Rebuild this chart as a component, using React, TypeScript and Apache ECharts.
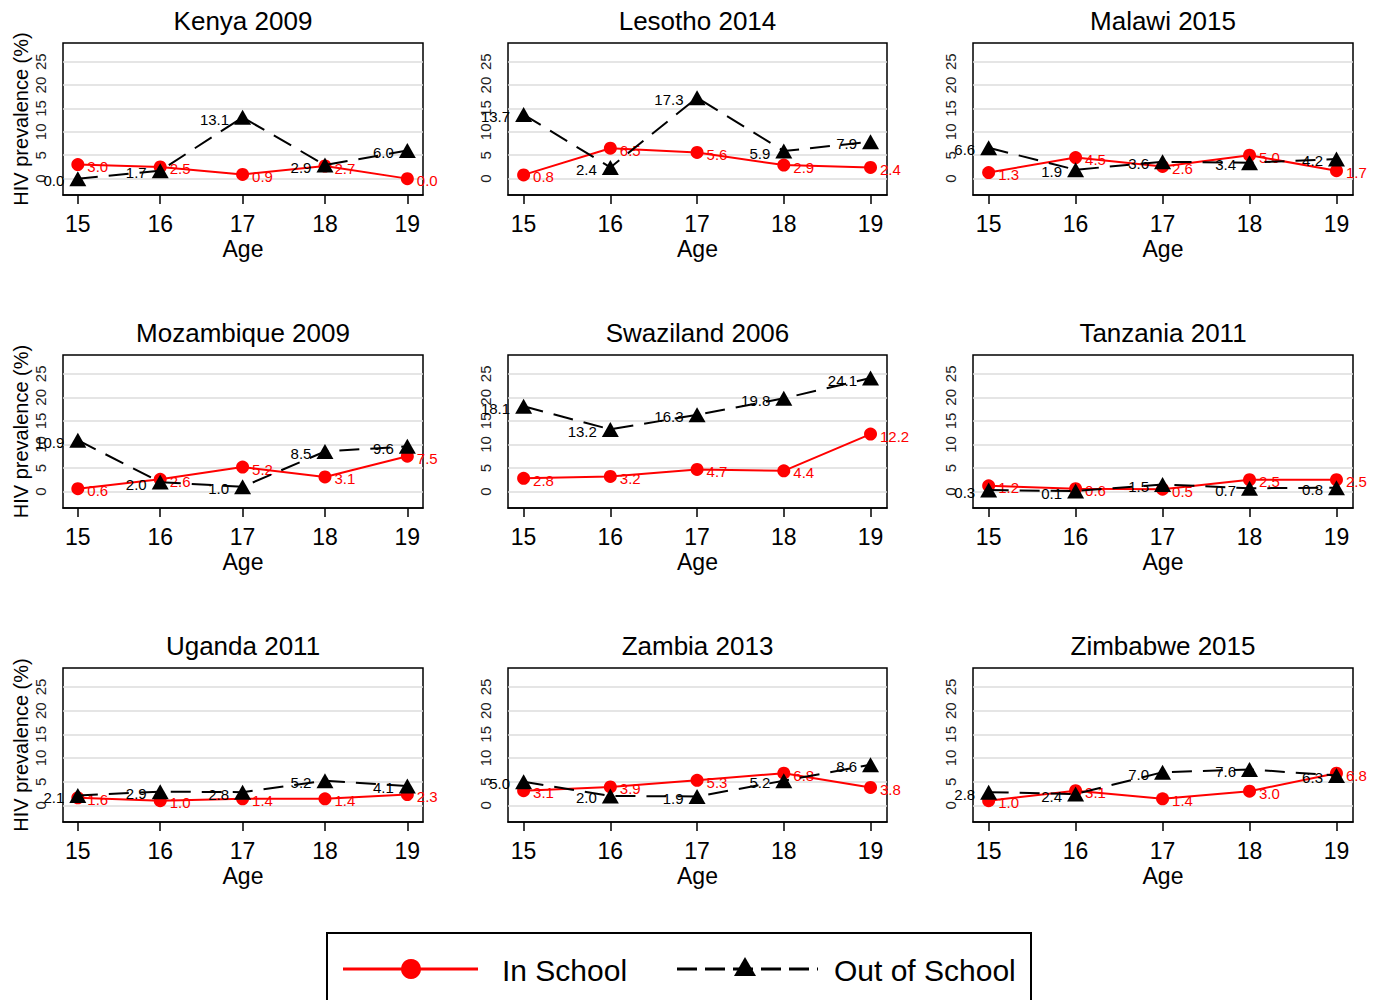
import React, { useEffect, useRef } from "react";
import * as echarts from "echarts";

const ages = [15, 16, 17, 18, 19];
const yTicks = [0, 5, 10, 15, 20, 25];
const panelTitles = [
  "Kenya 2009", "Lesotho 2014", "Malawi 2015",
  "Mozambique 2009", "Swaziland 2006", "Tanzania 2011",
  "Uganda 2011", "Zambia 2013", "Zimbabwe 2015",
];
const seriesNames = ["In School", "Out of School"];

const kenyaIn = [3.0, 2.5, 0.9, 2.7, 0.0];
const kenyaOut = [0.0, 1.7, 13.1, 2.9, 6.0];
const lesothoIn = [0.8, 6.5, 5.6, 2.9, 2.4];
const lesothoOut = [13.7, 2.4, 17.3, 5.9, 7.9];
const malawiIn = [1.3, 4.5, 2.6, 5.0, 1.7];
const malawiOut = [6.6, 1.9, 3.6, 3.4, 4.2];
const mozambiqueIn = [0.6, 2.6, 5.2, 3.1, 7.5];
const mozambiqueOut = [10.9, 2.0, 1.0, 8.5, 9.6];
const swazilandIn = [2.8, 3.2, 4.7, 4.4, 12.2];
const swazilandOut = [18.1, 13.2, 16.3, 19.8, 24.1];
const tanzaniaIn = [1.2, 0.6, 0.5, 2.5, 2.5];
const tanzaniaOut = [0.3, 0.1, 1.5, 0.7, 0.8];
const ugandaIn = [1.6, 1.0, 1.4, 1.4, 2.3];
const ugandaOut = [2.1, 2.9, 2.8, 5.2, 4.1];
const zambiaIn = [3.1, 3.9, 5.3, 6.8, 3.8];
const zambiaOut = [5.0, 2.0, 1.9, 5.2, 8.6];
const zimbabweIn = [1.0, 3.1, 1.4, 3.0, 6.8];
const zimbabweOut = [2.8, 2.4, 7.0, 7.6, 6.3];

const inSchool = [kenyaIn, lesothoIn, malawiIn, mozambiqueIn, swazilandIn, tanzaniaIn, ugandaIn, zambiaIn, zimbabweIn];
const outSchool = [kenyaOut, lesothoOut, malawiOut, mozambiqueOut, swazilandOut, tanzaniaOut, ugandaOut, zambiaOut, zimbabweOut];

const FONT = "'Liberation Sans', Arial, Helvetica, sans-serif";
const RED = "#ff0000";

const colLeft = [63, 508, 973];
const colWidth = [360, 379, 380];
const rowTop = [43, 355, 668];
const rowHeight = [152, 153, 154];

export default function App() {
  const ref = useRef<HTMLDivElement>(null);

  useEffect(() => {
    if (!ref.current) return;
    const chart = echarts.init(ref.current, null, { renderer: "svg" });

    const grids: any[] = [];
    const xAxes: any[] = [];
    const yAxes: any[] = [];
    const series: any[] = [];
    const graphics: any[] = [];

    panelTitles.forEach((title, i) => {
      const r = Math.floor(i / 3);
      const c = i % 3;
      grids.push({
        left: colLeft[c],
        top: rowTop[r],
        width: colWidth[c],
        height: rowHeight[r],
        show: true,
        borderColor: "#000",
        borderWidth: 1.5,
        backgroundColor: "transparent",
        containLabel: false,
      });
      xAxes.push({
        type: "value",
        gridIndex: i,
        min: 14.82,
        max: 19.19,
        axisLine: { show: true, onZero: false, lineStyle: { color: "#000", width: 1.5 } },
        axisTick: { show: true, length: 9, customValues: ages, lineStyle: { color: "#000", width: 1.5 } },
        axisLabel: {
          customValues: ages,
          fontSize: 23,
          color: "#000",
          margin: 17,
          fontFamily: FONT,
          formatter: (v: number) => (Number.isInteger(v) ? String(v) : ""),
        },
        splitLine: { show: false },
        name: "Age",
        nameLocation: "middle",
        nameGap: 42,
        nameTextStyle: { fontSize: 23, color: "#000", fontFamily: FONT },
      });
      yAxes.push({
        type: "value",
        gridIndex: i,
        min: -3.5,
        max: 29,
        axisLine: { show: false, onZero: false },
        axisTick: { show: false },
        axisLabel: {
          customValues: yTicks,
          rotate: 90,
          fontSize: 15,
          margin: 15,
          color: "#222",
          fontFamily: FONT,
          formatter: (v: number) => (v % 5 === 0 ? String(v) : ""),
        },
        splitLine: {
          show: true,
          showMinLine: false,
          showMaxLine: false,
          lineStyle: { color: "#dcdcdc", width: 1.5 },
        },
        name: c === 0 ? "HIV prevalence (%)" : "",
        nameLocation: "middle",
        nameGap: 32,
        nameRotate: 90,
        nameTextStyle: { fontSize: 20, color: "#000", fontFamily: FONT },
      });
      series.push({
        type: "line",
        name: seriesNames[0],
        xAxisIndex: i,
        yAxisIndex: i,
        data: ages.map((a, j) => [a, inSchool[i][j]]),
        symbol: "circle",
        symbolSize: 13,
        itemStyle: { color: RED },
        lineStyle: { color: RED, width: 2 },
        label: {
          show: true,
          position: "right",
          distance: 3,
          offset: [0, 2],
          color: RED,
          fontSize: 15,
          fontFamily: FONT,
          formatter: (p: any) => Number(p.value[1]).toFixed(1),
        },
        silent: true,
        z: 2,
      });
      series.push({
        type: "line",
        name: seriesNames[1],
        xAxisIndex: i,
        yAxisIndex: i,
        data: ages.map((a, j) => [a, outSchool[i][j]]),
        symbol: "triangle",
        symbolSize: [17, 15],
        itemStyle: { color: "#000" },
        lineStyle: { color: "#000", width: 2, type: [20, 11] },
        label: {
          show: true,
          position: "left",
          distance: 5,
          offset: [0, 2],
          color: "#000",
          fontSize: 15,
          fontFamily: FONT,
          formatter: (p: any) => Number(p.value[1]).toFixed(1),
        },
        silent: true,
        z: 3,
      });
      graphics.push({
        type: "text",
        x: colLeft[c] + colWidth[c] / 2,
        y: rowTop[r] - 22,
        style: {
          text: title,
          fontSize: 26,
          fontFamily: FONT,
          fill: "#000",
          align: "center",
          verticalAlign: "middle",
        },
      });
    });

    // Legend
    graphics.push(
      {
        type: "rect",
        shape: { x: 327, y: 933, width: 704, height: 100 },
        style: { fill: "#fff", stroke: "#000", lineWidth: 2 },
      },
      {
        type: "line",
        shape: { x1: 343, y1: 969, x2: 478, y2: 969 },
        style: { stroke: RED, lineWidth: 3 },
      },
      {
        type: "circle",
        shape: { cx: 411, cy: 969, r: 10 },
        style: { fill: RED },
      },
      {
        type: "text",
        x: 502,
        y: 970,
        style: { text: seriesNames[0], fontSize: 30, fontFamily: FONT, fill: "#000", verticalAlign: "middle" },
      },
      {
        type: "line",
        shape: { x1: 677, y1: 969, x2: 818, y2: 969 },
        style: { stroke: "#000", lineWidth: 3, lineDash: [20, 8] },
      },
      {
        type: "polygon",
        shape: { points: [[745, 957], [756, 976], [734, 976]] },
        style: { fill: "#000" },
      },
      {
        type: "text",
        x: 834,
        y: 970,
        style: { text: seriesNames[1], fontSize: 30, fontFamily: FONT, fill: "#000", verticalAlign: "middle" },
      }
    );

    chart.setOption({
      animation: false,
      backgroundColor: "#fff",
      textStyle: { fontFamily: FONT },
      grid: grids,
      xAxis: xAxes,
      yAxis: yAxes,
      series,
      graphic: graphics,
    });

    return () => chart.dispose();
  }, []);

  return (
    <div
      ref={ref}
      style={{ position: "absolute", left: 0, top: 0, width: 1378, height: 1000 }}
    />
  );
}
